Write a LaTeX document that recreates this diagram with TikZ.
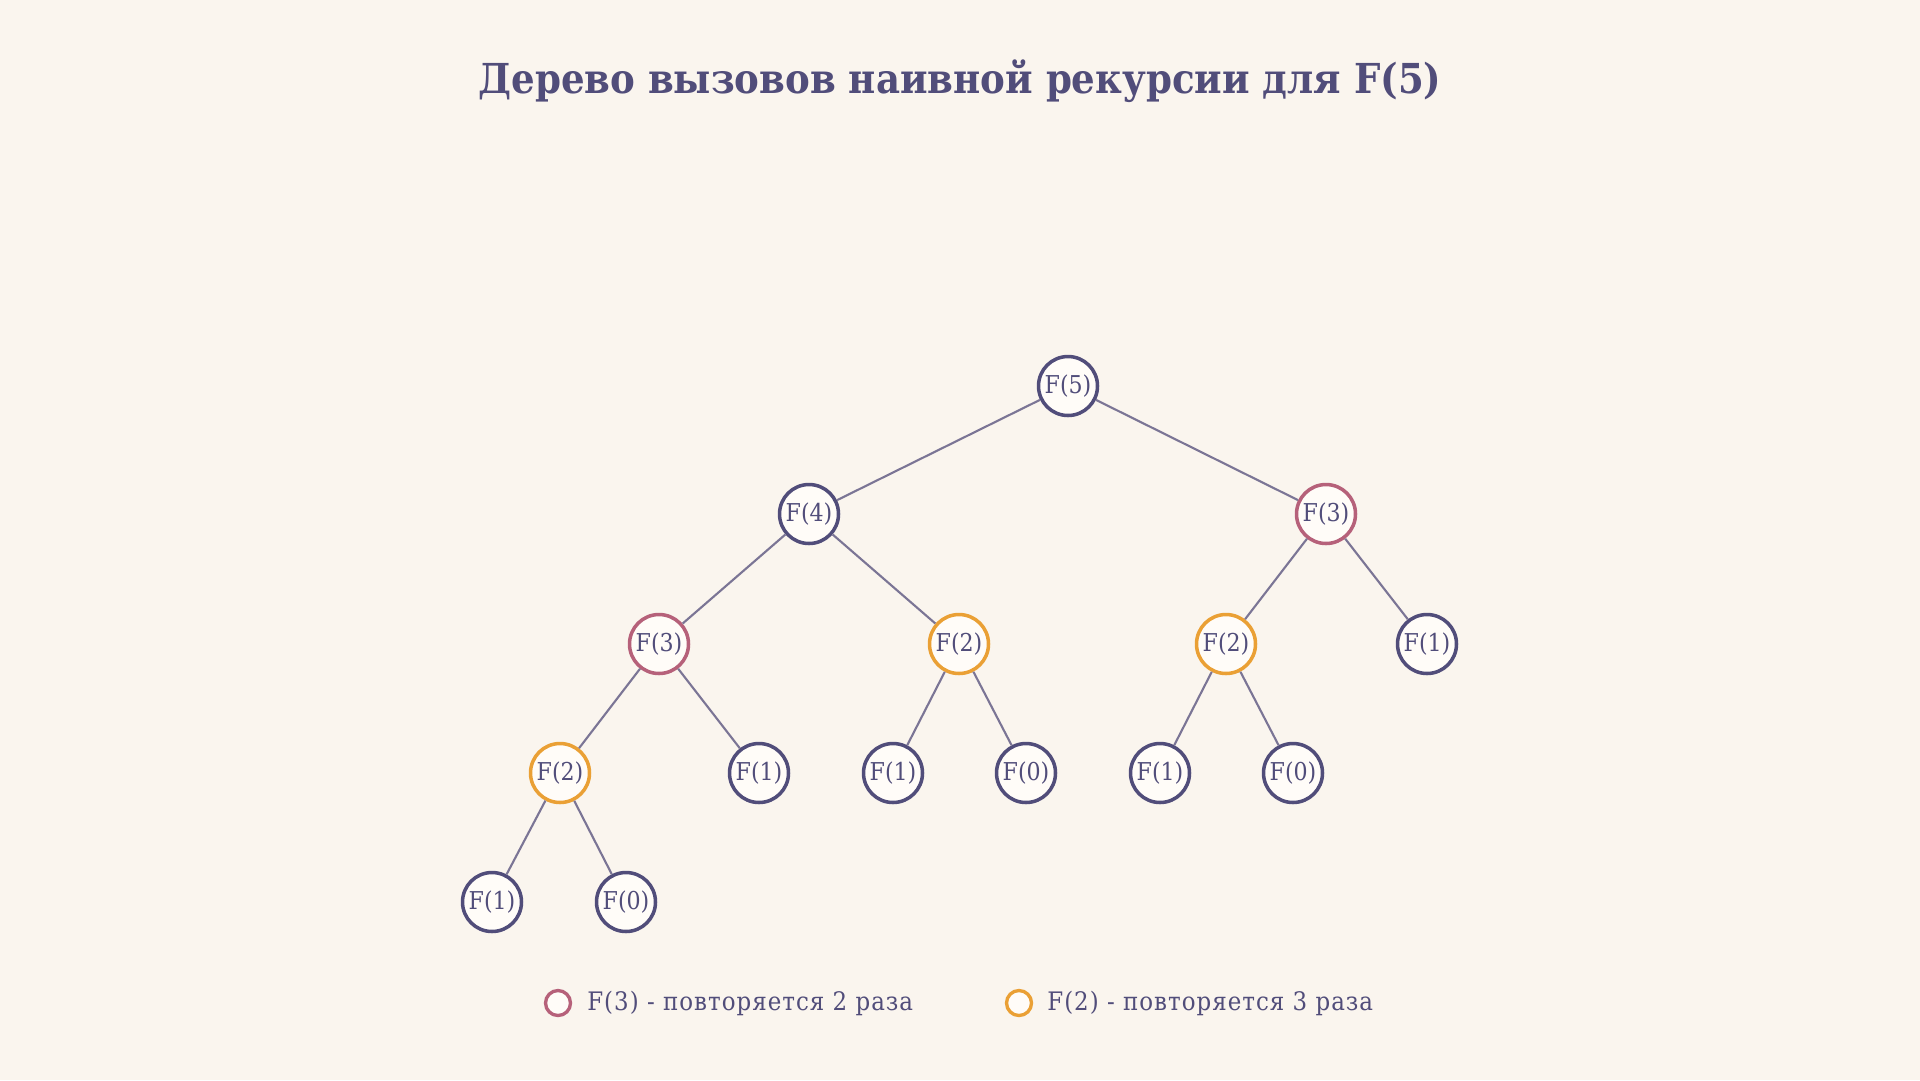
\documentclass[tikz,border=0pt]{standalone}
\usepackage{fontspec}
\setmainfont{DejaVu Serif Condensed}
\usetikzlibrary{positioning}
\definecolor{bgcream}{HTML}{FAF5EE}
\definecolor{inkblue}{HTML}{514D7A}
\definecolor{edgegray}{HTML}{7B7595}
\definecolor{repthree}{HTML}{B6617A}
\definecolor{reptwo}{HTML}{EAA035}
\definecolor{nodefill}{HTML}{FFFCF8}

\begin{document}
\begin{tikzpicture}[x=0.02cm,y=-0.02cm,
  call/.style={circle,draw=inkblue,line width=2pt,fill=nodefill,minimum size=1.18cm,inner sep=0pt,text=inkblue,font=\fontsize{14}{16}\selectfont},
  callthree/.style={call,draw=repthree},
  calltwo/.style={call,draw=reptwo},
  edge/.style={draw=edgegray,line width=1.2pt},
  keymark/.style={circle,line width=1.9pt,fill=nodefill,minimum size=0.5cm,inner sep=0pt},
  keytext/.style={anchor=west,text=inkblue,font=\fontsize{14.5}{16}\selectfont\addfontfeature{LetterSpace=4},inner sep=0pt}]
\fill[bgcream] (0,0) rectangle (1920,1080);
\useasboundingbox (0,0) rectangle (1920,1080);

\node[text=inkblue,font=\fontsize{23.5}{28}\selectfont\bfseries] (title) at (960,81) {Дерево вызовов наивной рекурсии для F(5)};

% levels of the tree
\node[call] (f5) at (1068,386) {F(5)};
\node[call] (f4) at (809,514) {F(4)};
\node[callthree] (f3r) at (1326,514) {F(3)};
\node[callthree] (f3l) at (659,644) {F(3)};
\node[calltwo] (f2m) at (959,644) {F(2)};
\node[calltwo] (f2r) at (1226,644) {F(2)};
\node[call] (f1d) at (1427,644) {F(1)};
\node[calltwo] (f2l) at (560,773) {F(2)};
\node[call] (f1a) at (759,773) {F(1)};
\node[call] (f1b) at (893,773) {F(1)};
\node[call] (f0b) at (1026,773) {F(0)};
\node[call] (f1c) at (1160,773) {F(1)};
\node[call] (f0c) at (1293,773) {F(0)};
\node[call] (f1e) at (492,902) {F(1)};
\node[call] (f0e) at (626,902) {F(0)};

\draw[edge] (f5) -- (f4);
\draw[edge] (f5) -- (f3r);
\draw[edge] (f4) -- (f3l);
\draw[edge] (f4) -- (f2m);
\draw[edge] (f3r) -- (f2r);
\draw[edge] (f3r) -- (f1d);
\draw[edge] (f3l) -- (f2l);
\draw[edge] (f3l) -- (f1a);
\draw[edge] (f2m) -- (f1b);
\draw[edge] (f2m) -- (f0b);
\draw[edge] (f2r) -- (f1c);
\draw[edge] (f2r) -- (f0c);
\draw[edge] (f2l) -- (f1e);
\draw[edge] (f2l) -- (f0e);

% legend
\node[keymark,draw=repthree] (keythree) at (558,1003) {};
\node[keytext] (keythreetext) at (587,1003) {F(3) - повторяется 2 раза};
\node[keymark,draw=reptwo] (keytwo) at (1019,1003) {};
\node[keytext] (keytwotext) at (1047,1003) {F(2) - повторяется 3 раза};

\end{tikzpicture}
\end{document}
